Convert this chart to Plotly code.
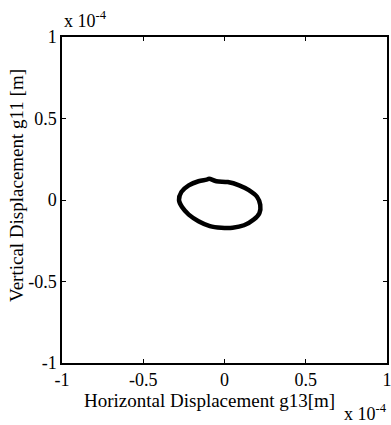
import plotly.graph_objects as go

# Orbit of the shaft centre (units of 1e-4 m)
horiz_disp = [-0.28, -0.265, -0.22, -0.16, -0.11, -0.095, -0.05, 0.02, 0.09, 0.15, 0.20, 0.22,
              0.215, 0.18, 0.12, 0.05, -0.02, -0.09, -0.16, -0.22, -0.26, -0.28]
vert_disp = [0.00, 0.05, 0.09, 0.115, 0.125, 0.13, 0.115, 0.11, 0.09, 0.06, 0.02, -0.03,
             -0.08, -0.12, -0.155, -0.17, -0.17, -0.16, -0.13, -0.09, -0.045, 0.00]
tick_vals = [-1, -0.5, 0, 0.5, 1]
tick_text = ["-1", "-0.5", "0", "0.5", "1"]

fam = "Liberation Serif, Times New Roman, serif"
tick_font = dict(family=fam, size=18, color="black")
title_font = dict(family=fam, size=19, color="black")

fig = go.Figure()
fig.add_trace(go.Scatter(x=horiz_disp, y=vert_disp, mode="lines",
                         line=dict(color="black", width=4.5, shape="spline", smoothing=1.0),
                         hoverinfo="skip", showlegend=False))

axis_common = dict(range=[-1, 1], tickvals=tick_vals, ticktext=tick_text,
                   ticks="inside", ticklen=4, tickcolor="black", tickwidth=1,
                   showline=True, linecolor="black", linewidth=1.5, mirror="ticks",
                   showgrid=False, zeroline=False, tickfont=tick_font,
                   automargin=False, ticklabeloverflow="allow")

fig.update_xaxes(**axis_common, ticklabelstandoff=0)
fig.update_yaxes(**axis_common)

# axis titles as annotations to match placement
fig.add_annotation(text="Horizontal Displacement g13[m]", xref="paper", yref="paper",
                   x=0.455, y=0, xanchor="center", yanchor="middle", yshift=-37,
                   showarrow=False, font=title_font)
fig.add_annotation(text="Vertical Displacement g11 [m]", xref="paper", yref="paper",
                   x=0, y=0.543, xanchor="center", yanchor="middle", xshift=-45,
                   textangle=-90, showarrow=False, font=title_font)

fig.add_annotation(text="x 10<sup>-4</sup>", xref="paper", yref="paper", x=0.0, y=1.0,
                   xanchor="left", yanchor="bottom", showarrow=False, font=tick_font, yshift=4)
fig.add_annotation(text="x 10<sup>-4</sup>", xref="paper", yref="paper", x=1.0, y=0.0,
                   xanchor="right", yanchor="top", showarrow=False, font=tick_font,
                   yshift=-36, xshift=2)

fig.update_layout(width=391, height=425, margin=dict(l=62, r=4, t=37, b=62),
                  paper_bgcolor="white", plot_bgcolor="white")

fig.write_html("out.html")
